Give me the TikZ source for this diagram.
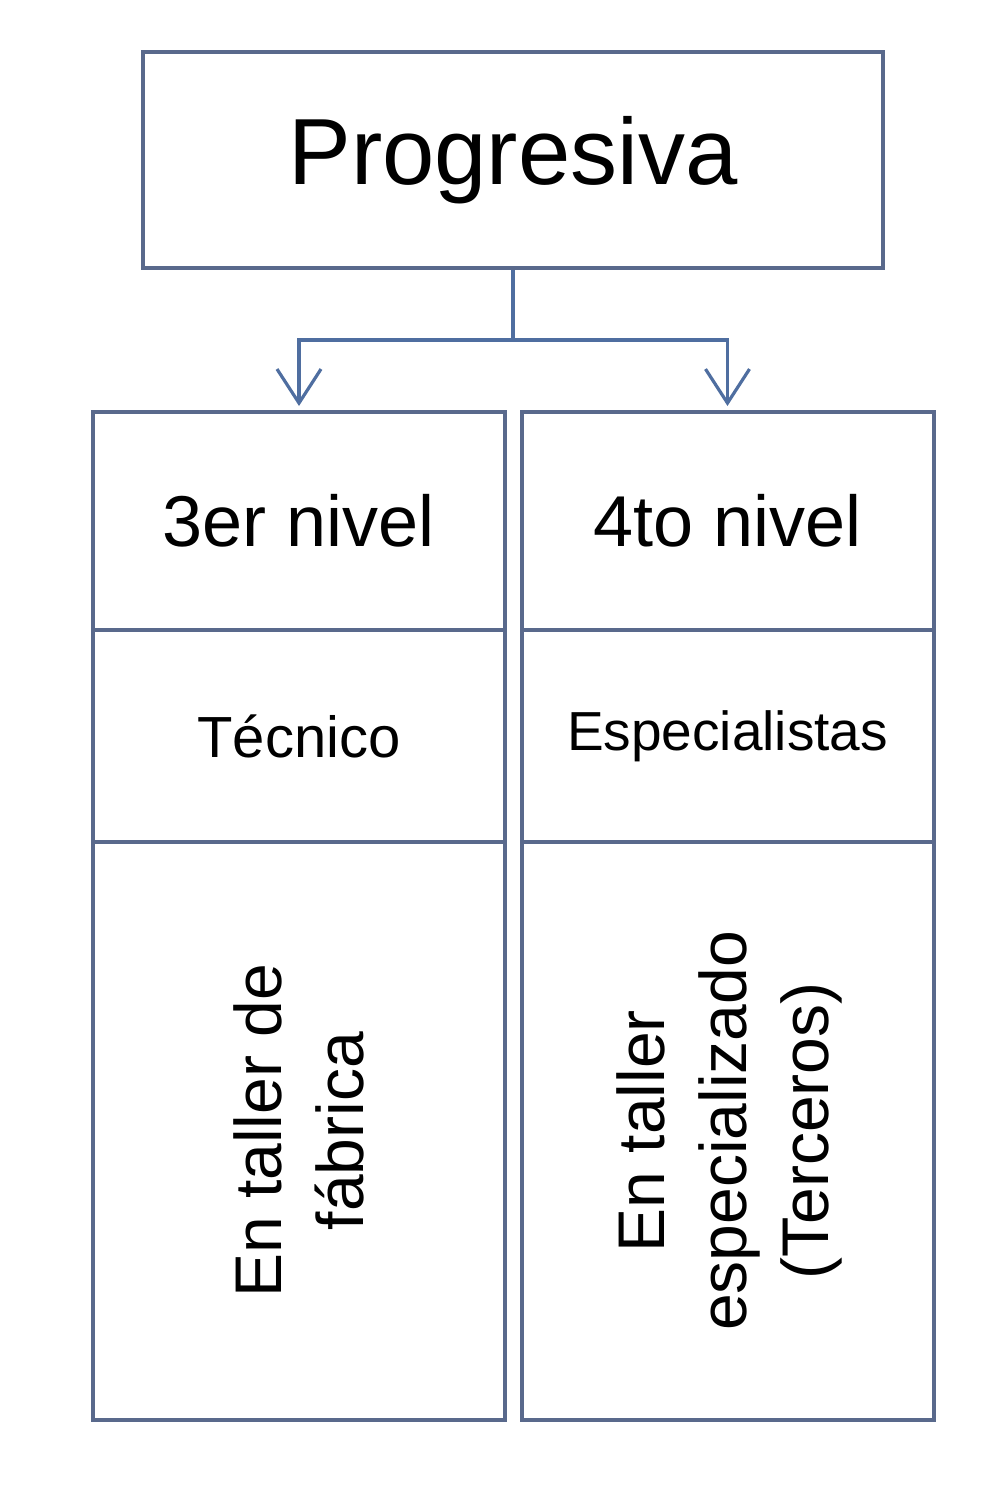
\documentclass[tikz,border=0pt]{standalone}
\usepackage{fontspec}
\setmainfont{Liberation Sans}
\usetikzlibrary{arrows.meta}

\definecolor{boxline}{RGB}{89,105,140}
\definecolor{linkline}{RGB}{79,110,160}

\tikzset{every picture/.style={line width=2pt}}
\tikzset{
  cell/.style={draw=boxline, line width=2pt, inner sep=0pt, minimum width=#1},
  cell/.default={206pt},
  link/.style={draw=linkline, line width=1.6pt},
  tip/.style={-{Straight Barb[length=17pt,width=22pt,line width=1.6pt]}, shorten >=2pt},
  vtext/.style={rotate=90, align=center, font=\fontsize{33}{41}\selectfont}
}

\begin{document}
\begin{tikzpicture}[x=0.5pt,y=0.5pt,yscale=-1,xscale=1]
\useasboundingbox (0,0) rectangle (980,1508);

% Top box
\node [cell=370pt, minimum height=108pt, font=\fontsize{47}{56}\selectfont] (top) at (513,160) {Progresiva};

% Left column
\node [cell, minimum height=109pt, font=\fontsize{36}{43}\selectfont] (l1) at (299,521) {3er nivel};
\node [cell, minimum height=106pt, font=\fontsize{29}{35}\selectfont] (l2) at (299,736) {Técnico};
\node [cell, minimum height=289pt] (l3) at (299,1131) {};
\node [vtext] (l3t) at (299,1131) {En taller de\\fábrica};

% Right column
\node [cell, minimum height=109pt, font=\fontsize{36}{43}\selectfont] (r1) at (727.5,521) {4to nivel};
\node [cell, minimum height=106pt, font=\fontsize{27.5}{33}\selectfont] (r2) at (727.5,736) {Especialistas};
\node [cell, minimum height=289pt] (r3) at (727.5,1131) {};
\node [vtext] (r3t) at (729,1131) {En taller\\especializado\\(Terceros)};

% Connectors
\coordinate (fork) at (513,340);
\draw [link] (top.south) -- (fork);
\draw [link, tip] (fork) -| (l1.north);
\draw [link, tip] (fork) -| (r1.north);

\end{tikzpicture}
\end{document}
